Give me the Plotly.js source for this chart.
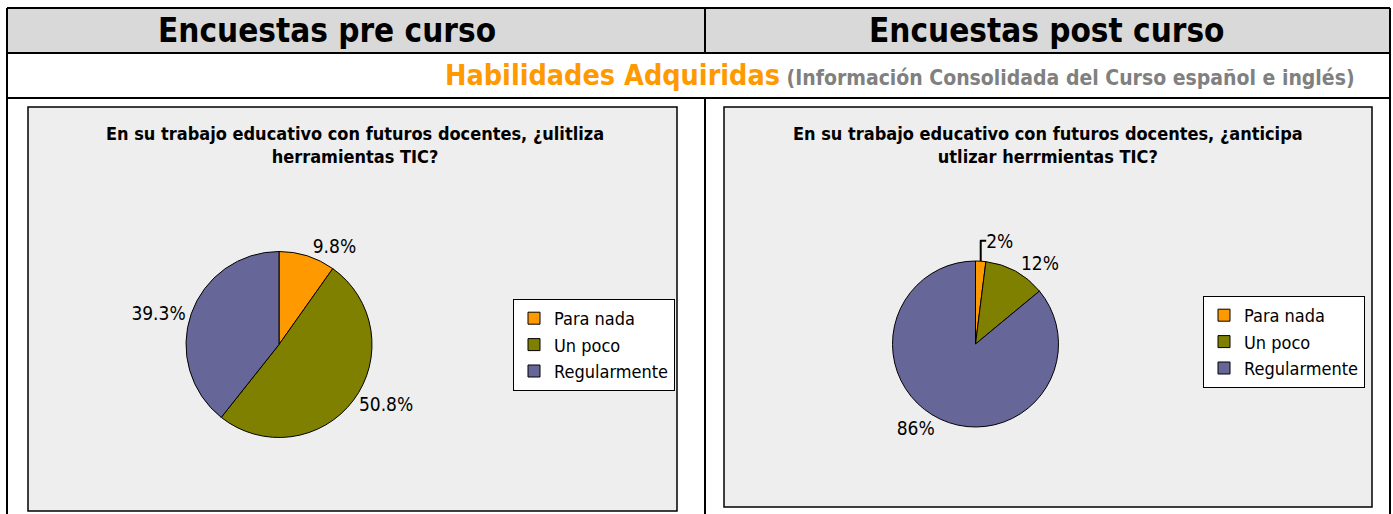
<!DOCTYPE html>
<html>
<head>
<meta charset="utf-8">
<script src="https://cdn.plot.ly/plotly-3.0.1.min.js"></script>
<style>html,body{margin:0;padding:0;background:#fff;}#chart{width:1393px;height:514px;}</style>
</head>
<body>
<div id="chart"></div>
<script>
// ---- data ----
var categories = ["Para nada", "Un poco", "Regularmente"];
var preValues = [9.8, 50.8, 39.3];
var preLabels = ["9.8%", "50.8%", "39.3%"];
var postValues = [2, 12, 86];
var postLabels = ["2%", "12%", "86%"];
var sliceColors = ["#FF9900", "#808000", "#666699"];
var headerLeft = "Encuestas pre curso";
var headerRight = "Encuestas post curso";
var sectionTitle = "Habilidades Adquiridas";
var sectionSub = "(Información Consolidada del Curso español e inglés)";
var preTitle = "En su trabajo educativo con futuros docentes, ¿ulitliza<br>herramientas TIC?";
var postTitle = "En su trabajo educativo con futuros docentes, ¿anticipa<br>utlizar herrmientas TIC?";

// ---- layout helpers (pixel -> paper) ----
var W = 1393, H = 514;
function px(x){ return x / W; }
function py(y){ return 1 - y / H; }
var FONT = "DejaVu Sans Condensed, Liberation Sans Narrow, Arial Narrow, DejaVu Sans, sans-serif";

function pieTrace(values, text, dom, legendId, group){
  return {
    type: "pie",
    labels: categories,
    values: values,
    text: text,
    textinfo: "text",
    textposition: "outside",
    outsidetextfont: {family: FONT, size: 19, color: "#000"},
    sort: false,
    direction: "clockwise",
    rotation: 0,
    marker: {colors: sliceColors, line: {color: "#000", width: 1}},
    domain: dom,
    legend: legendId,
    legendgroup: group,
    hoverinfo: "none"
  };
}

var data = [
  pieTrace(preValues, preLabels, {x: [px(186), px(372)], y: [py(438), py(251)]}, "legend", "pre"),
  pieTrace(postValues, postLabels, {x: [px(892.5), px(1058.5)], y: [py(427), py(261)]}, "legend2", "post")
];

function line(x0, y0, x1, y1, w){
  return {type: "line", xref: "paper", yref: "paper", x0: px(x0), y0: py(y0), x1: px(x1), y1: py(y1),
          line: {color: "#000", width: w || 2}};
}
function rect(x0, y0, x1, y1, fill, lw){
  return {type: "rect", xref: "paper", yref: "paper", x0: px(x0), y0: py(y0), x1: px(x1), y1: py(y1),
          fillcolor: fill, line: {color: lw ? "#000" : "rgba(0,0,0,0)", width: lw || 0}, layer: "below"};
}

var shapes = [
  rect(7, 8, 1390, 53, "#D9D9D9", 0),
  rect(28, 107, 677, 511, "#EEEEEE", 1.5),
  rect(724, 107, 1372, 507, "#EEEEEE", 1.5),
  line(7, 8, 1390, 8),
  line(7, 53, 1390, 53),
  line(7, 98, 1390, 98),
  line(7, 8, 7, 514),
  line(1390, 8, 1390, 514),
  line(705, 8, 705, 53),
  line(705, 98, 705, 514)
];

var annotations = [
  {text: "<b>" + headerLeft + "</b>", x: px(327), y: py(30), xref: "paper", yref: "paper",
   showarrow: false, xanchor: "center", yanchor: "middle", font: {family: FONT, size: 33, color: "#000"}},
  {text: "<b>" + headerRight + "</b>", x: px(1047), y: py(30), xref: "paper", yref: "paper",
   showarrow: false, xanchor: "center", yanchor: "middle", font: {family: FONT, size: 33, color: "#000"}},
  {text: "<b><span style='font-size:28.5px;color:#FF9900'>" + sectionTitle + "</span> <span style='font-size:21px;color:#808080'>" + sectionSub + "</span></b>",
   x: px(1357), y: py(75), xref: "paper", yref: "paper",
   showarrow: false, xanchor: "right", yanchor: "middle", font: {family: FONT, size: 21, color: "#808080"}},
  {text: "<b>" + preTitle + "</b>", x: px(355), y: py(145), xref: "paper", yref: "paper",
   showarrow: false, xanchor: "center", yanchor: "middle", align: "center",
   font: {family: FONT, size: 18, color: "#000"}},
  {text: "<b>" + postTitle + "</b>", x: px(1048), y: py(145), xref: "paper", yref: "paper",
   showarrow: false, xanchor: "center", yanchor: "middle", align: "center",
   font: {family: FONT, size: 18, color: "#000"}}
];

var legendStyle = function(x, y){
  return {x: px(x), y: py(y), xref: "paper", yref: "paper", xanchor: "right", yanchor: "top",
          bgcolor: "#FFFFFF", bordercolor: "#000", borderwidth: 1, itemwidth: 30,
          font: {family: FONT, size: 18, color: "#000"}, itemclick: false, itemdoubleclick: false};
};

var layout = {
  width: W, height: H,
  margin: {l: 0, r: 0, t: 0, b: 0},
  paper_bgcolor: "#FFFFFF",
  showlegend: true,
  legend: legendStyle(675, 299),
  legend2: legendStyle(1365, 296),
  shapes: shapes,
  annotations: annotations
};

Plotly.newPlot("chart", data, layout, {displayModeBar: false, staticPlot: true});
</script>
</body>
</html>
